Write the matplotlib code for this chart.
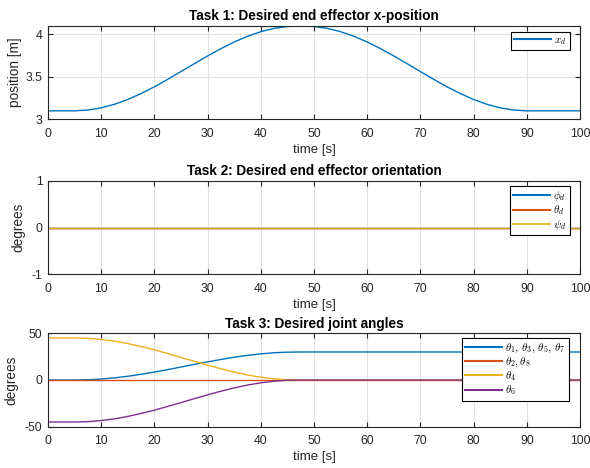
import numpy as np
import matplotlib
matplotlib.use("Agg")
import matplotlib.pyplot as plt

plt.rcParams["font.family"] = ["Liberation Sans", "DejaVu Sans"]
plt.rcParams["mathtext.fontset"] = "cm"
plt.rcParams["axes.unicode_minus"] = False

# time grid [s]
t = np.arange(0, 100.1, 2.5)

# Task 1: desired end effector x-position [m]
x_d = [3.100, 3.100, 3.100, 3.109, 3.135, 3.177, 3.234, 3.304, 3.383, 3.471,
       3.563, 3.656, 3.747, 3.833, 3.912, 3.979, 4.033, 4.072, 4.094, 4.100,
       4.094, 4.072, 4.033, 3.979, 3.912, 3.833, 3.747, 3.656, 3.563, 3.471,
       3.383, 3.304, 3.234, 3.177, 3.135, 3.109, 3.100, 3.100, 3.100, 3.100,
       3.100]

# Task 2: desired orientation (all zero)
phi_d = [0.0] * len(t)
theta_d = [0.0] * len(t)
psi_d = [0.0] * len(t)

# Task 3: desired joint angles [deg]
th_1357 = [0.0, 0.0, 0.0, 0.26, 1.04, 2.30, 4.0, 6.1, 8.5, 11.1,
           13.9, 16.7, 19.4, 22.0, 24.4, 26.4, 28.0, 29.2, 29.8, 30.0] + [30.0] * 21
th_28 = [0.0] * len(t)
th_4 = [45.0, 45.0, 45.0, 44.6, 43.4, 41.6, 39.0, 35.8, 32.3, 28.3,
        24.2, 20.0, 15.9, 12.0, 8.5, 5.4, 3.0, 1.3, 0.25, 0.0] + [0.0] * 21
th_6 = [-v for v in th_4]

C1, C2, C3, C4 = "#0072BD", "#D95319", "#EDB120", "#7E2F8E"
DARK = "#262626"
W, H = 590, 468
X0, X1 = 48, 580

fig = plt.figure(figsize=(W / 100, H / 100), dpi=100)


def make_axes(top, bottom, ylab, ylab_x, title):
    ax = fig.add_axes([X0 / W, 1 - bottom / H, (X1 - X0) / W, (bottom - top) / H])
    ax.set_xlim(0, 100)
    ax.set_xticks(np.arange(0, 101, 10))
    ax.grid(True, color="#e1e1e1", lw=0.8)
    ax.set_axisbelow(True)
    ax.tick_params(direction="in", top=True, right=True, length=3.8, width=0.8,
                   labelsize=8.8, colors=DARK)
    ax.tick_params(axis="x", pad=6)
    ax.tick_params(axis="y", pad=4)
    for s in ax.spines.values():
        s.set_color(DARK)
        s.set_linewidth(0.8)
    ax.set_xlabel("time [s]", fontsize=9.5, color=DARK)
    ax.xaxis.set_label_coords(0.5, -0.265)
    ax.set_ylabel(ylab, fontsize=9.8, color=DARK)
    ax.yaxis.set_label_coords((ylab_x - X0) / (X1 - X0), 0.5)
    ax.set_title(title, fontsize=9.8, fontweight="bold", pad=4)
    return ax


def legend(ax, right_px, top_frac):
    lg = ax.legend(fontsize=8, fancybox=False, edgecolor="black", framealpha=1,
                   handlelength=3.3, borderpad=0.3, labelspacing=0.05,
                   handletextpad=0.3, borderaxespad=0, loc="upper right",
                   bbox_to_anchor=((right_px - X0) / (X1 - X0), top_frac))
    lg.get_frame().set_linewidth(0.8)
    for h in lg.legend_handles:
        h.set_linewidth(1.5)
    return lg


lw = 1.0

ax1 = make_axes(26, 119.3, "position [m]", 22, "Task 1: Desired end effector x-position")
ax1.plot(t, x_d, color=C1, lw=lw, label="$x_d$")
ax1.set_ylim(3, 4.1)
ax1.set_yticks([3, 3.5, 4])
ax1.set_yticklabels(["3", "3.5", "4"])
legend(ax1, 570, 0.939)

ax2 = make_axes(180.7, 274.3, "degrees", 25, "Task 2: Desired end effector orientation")
ax2.plot(t, phi_d, color=C1, lw=lw, label=r"$\phi_d$")
ax2.plot(t, theta_d, color=C2, lw=lw, label=r"$\theta_d$")
ax2.plot(t, psi_d, color=C3, lw=lw, alpha=0.85, label=r"$\psi_d$")
ax2.set_ylim(-1, 1)
ax2.set_yticks([-1, 0, 1])
legend(ax2, 570, 0.947)

ax3 = make_axes(333.3, 426.7, "degrees", 18.5, "Task 3: Desired joint angles")
ax3.plot(t, th_1357, color=C1, lw=lw,
         label=r"$\theta_1,\,\theta_3,\,\theta_5,\,\theta_7$")
ax3.plot(t, th_28, color=C2, lw=lw, label=r"$\theta_2,\theta_8$")
ax3.plot(t, th_4, color=C3, lw=lw, label=r"$\theta_4$")
ax3.plot(t, th_6, color=C4, lw=lw, label=r"$\theta_6$")
ax3.set_ylim(-50, 50)
ax3.set_yticks([-50, 0, 50])
legend(ax3, 569, 0.95)

fig.savefig("out.png", dpi=100)
